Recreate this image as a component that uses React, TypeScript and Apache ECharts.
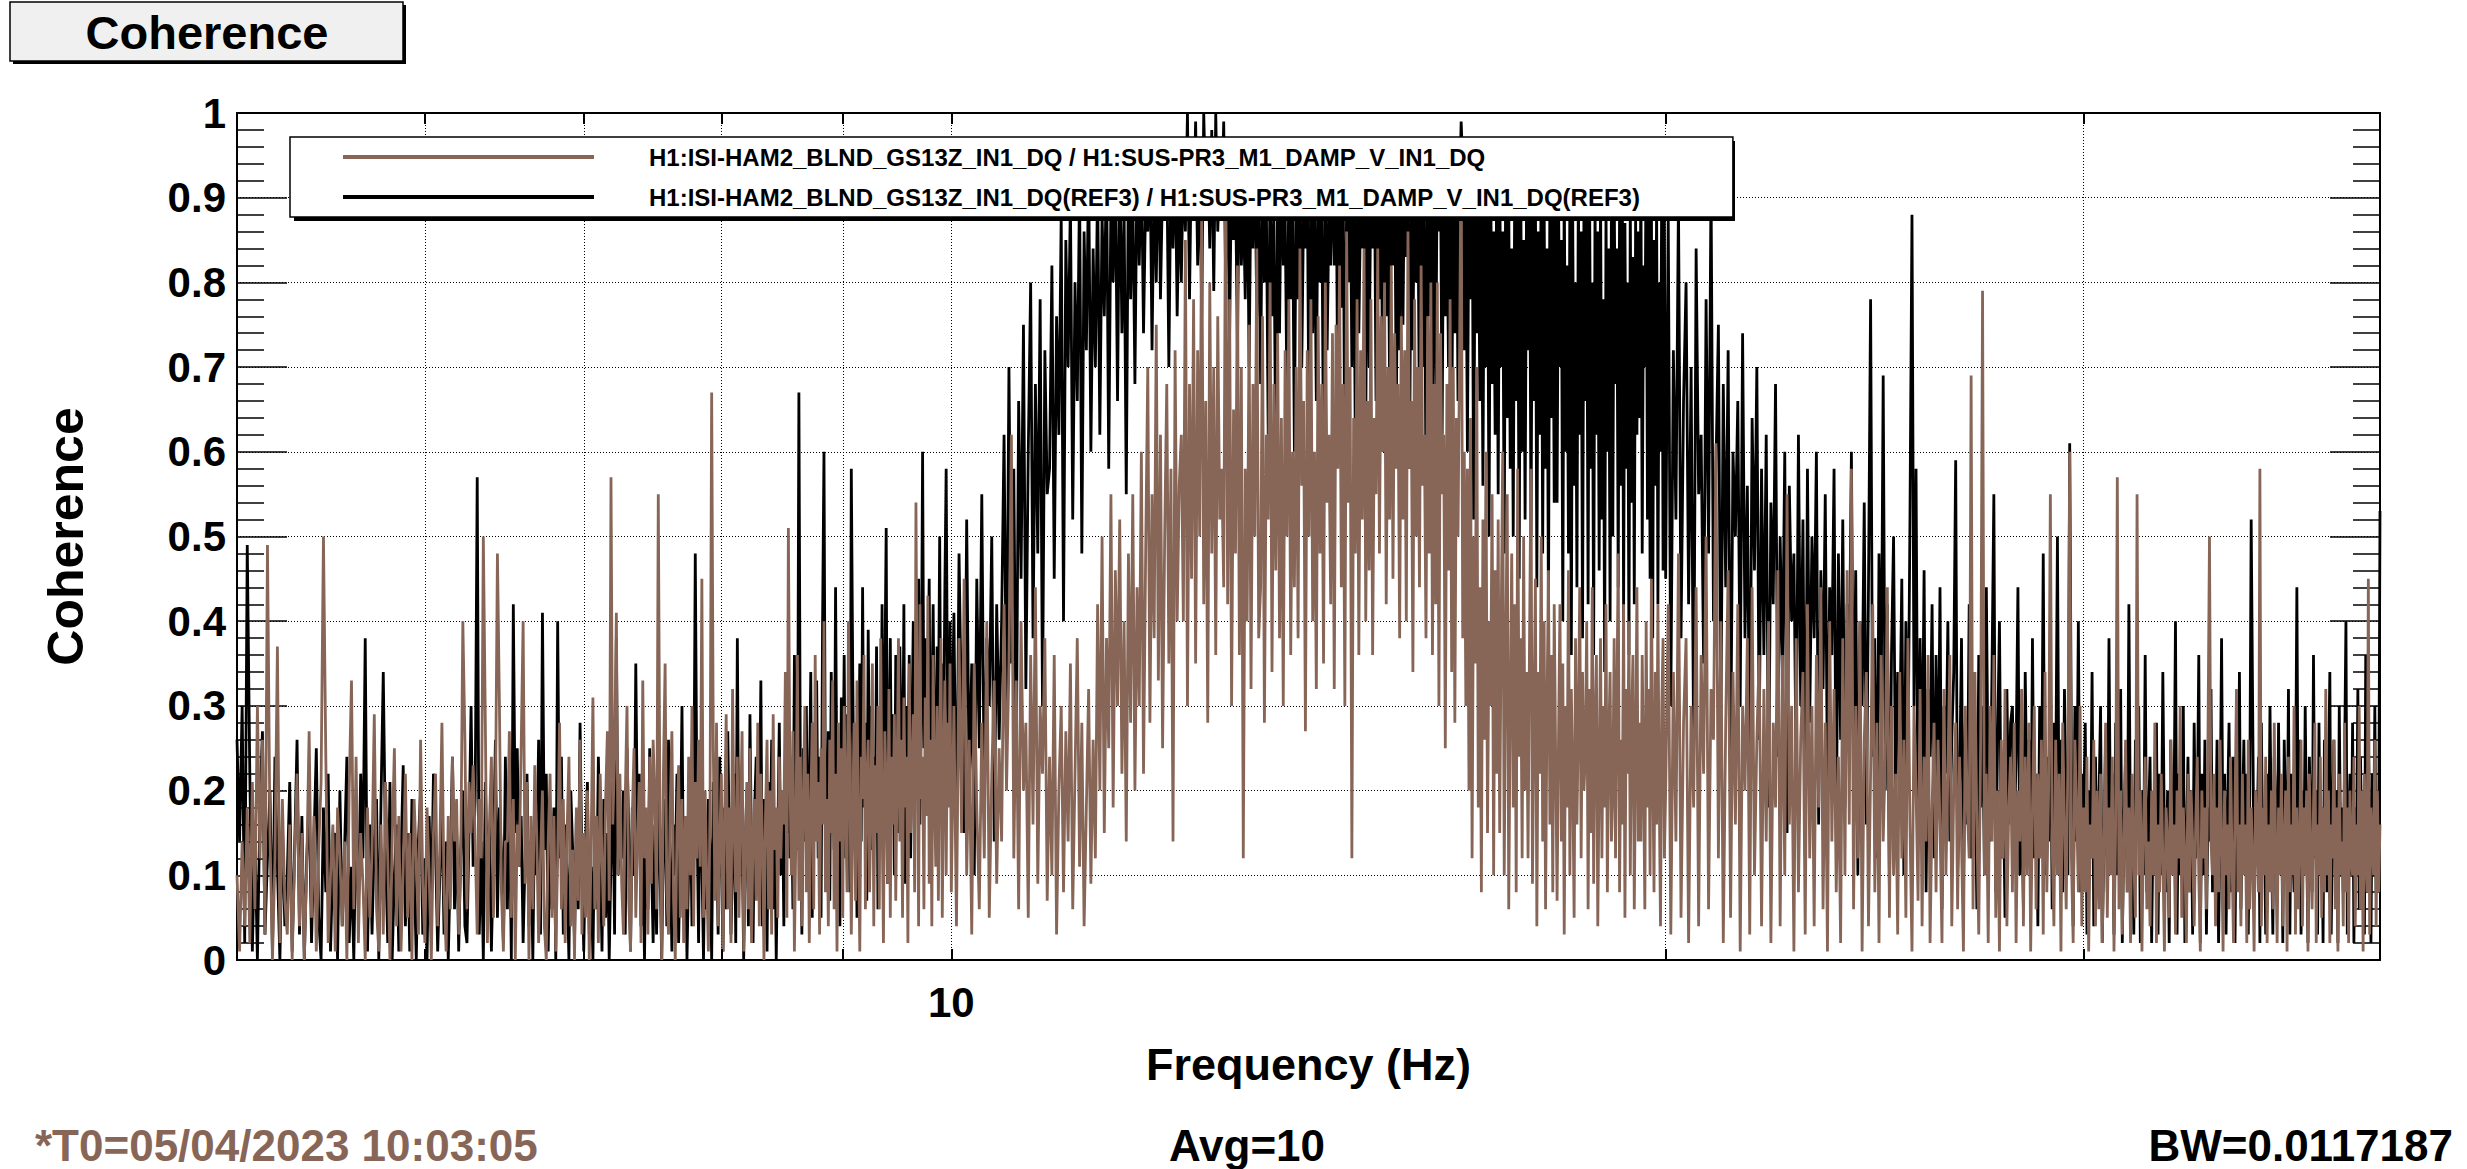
import React, { useEffect, useRef } from "react";
import * as echarts from "echarts";

// ---- frequency grids (Hz) of the three bands ----
const BAND_LOW = { start: 5, step: 0.0125 };
const BAND_MID = { start: 10, step: 0.025 };
const BAND_HIGH = { start: 20, step: 0.05 };

// ---- names ----
const LIVE_NAME = "H1:ISI-HAM2_BLND_GS13Z_IN1_DQ / H1:SUS-PR3_M1_DAMP_V_IN1_DQ";
const REF_NAME = "H1:ISI-HAM2_BLND_GS13Z_IN1_DQ(REF3) / H1:SUS-PR3_M1_DAMP_V_IN1_DQ(REF3)";

// ---- coherence in percent, REF3 trace (black) ----
const refBand5to10 = [
  26, 14, 30, 2, 49, 22, 1, 15, 0, 18, 27, 3, 12, 20, 1, 24, 11, 0, 16, 4,
  10, 21, 1, 13, 26, 3, 17, 0, 12, 19, 2, 14, 25, 5, 0, 18, 8, 22, 1, 12,
  15, 0, 20, 4, 13, 24, 2, 11, 0, 17, 6, 22, 12, 38, 1, 16, 3, 14, 19, 0,
  19, 34, 13, 2, 21, 0, 10, 16, 1, 12, 23, 4, 15, 1, 19, 11, 0, 14, 20, 3,
  12, 0, 17, 5, 22, 13, 1, 10, 18, 3, 14, 0, 11, 24, 6, 16, 1, 13, 20, 4,
  2, 15, 30, 11, 19, 57, 3, 14, 0, 21, 10, 16, 1, 12, 26, 5, 18, 13, 2, 24,
  6, 20, 0, 42, 15, 25, 11, 17, 2, 12, 22, 4, 14, 0, 19, 10, 26, 3, 41, 13,
  22, 1, 15, 6, 18, 0, 40, 12, 24, 3, 16, 10, 0, 20, 13, 2, 17, 6, 28, 11,
  1, 14, 21, 3, 11, 0, 17, 6, 24, 13, 1, 19, 5, 15, 0, 12, 21, 3, 38, 10,
  16, 12, 20, 3, 25, 15, 1, 18, 10, 35, 14, 22, 4, 13, 0, 17, 6, 25, 12, 2,
  16, 3, 21, 11, 0, 14, 19, 4, 26, 12, 1, 16, 10, 22, 2, 13, 30, 6, 17, 0,
  11, 20, 4, 14, 48, 18, 2, 23, 12, 0, 16, 6, 19, 13, 0, 21, 10, 15, 3, 24,
  12, 1, 18, 6, 27, 14, 3, 11, 22, 2, 38, 10, 17, 15, 0, 13, 20, 4, 29, 12,
  2, 18, 24, 10, 15, 33, 4, 19, 13, 1, 21, 11, 26, 6, 17, 0, 14, 28, 10, 20,
  4, 24, 15, 31, 12, 22, 6, 36, 18, 13, 67, 20, 3, 25, 14, 30, 11, 19, 34, 5,
  28, 15, 33, 12, 24, 5, 39, 60, 18, 14, 27, 7, 34, 22, 13, 44, 17, 25, 4, 31,
  18, 36, 12, 29, 20, 8, 58, 34, 16, 26, 5, 22, 35, 14, 44, 18, 28, 7, 39, 21,
  30, 13, 24, 16, 37, 6, 28, 20, 42, 14, 33, 51, 9, 25, 38, 17, 29, 10, 36, 22,
  15, 37, 26, 18, 42, 9, 30, 21, 36, 12, 27, 40, 19, 33, 23, 45, 16, 31, 60, 25,
  38, 20, 33, 45, 17, 29, 42, 24, 19, 37, 28, 50, 21, 35, 26, 44, 58, 30, 22, 40,
];
const refBand10to20 = [
  22, 41, 12, 48, 28, 15, 52, 20, 35, 10, 45, 25, 55, 18, 38, 30, 50, 14, 42, 26,
  40, 62, 28, 70, 35, 58, 22, 66, 45, 75, 32, 60, 80, 38, 68, 48, 78, 30, 72, 55,
  58, 82, 45, 76, 62, 88, 40, 85, 70, 90, 52, 80, 66, 92, 48, 86, 72, 94, 60, 84,
  70, 92, 62, 88, 76, 95, 58, 90, 80, 93, 66, 96, 74, 89, 55, 94, 78, 91, 68, 95,
  82, 95, 74, 90, 86, 96, 72, 93, 80, 97, 78, 92, 88, 95, 70, 94, 84, 96, 76, 91,
  80, 94, 86, 100, 78, 96, 88, 99, 82, 95, 76, 100, 90, 97, 84, 98, 79, 100, 86, 93,
  88, 99, 80, 96, 74, 94, 85, 92, 72, 97, 82, 90, 78, 95, 70, 93, 84, 96, 76, 91,
  68, 95, 80, 90, 62, 94, 76, 88, 58, 92, 74, 96, 82, 89, 65, 93, 78, 90, 60, 94,
  78, 96, 70, 89, 84, 93, 60, 95, 74, 90, 66, 94, 80, 91, 58, 95, 72, 88, 82, 96,
  82, 97, 64, 91, 77, 94, 56, 90, 80, 96, 70, 92, 60, 95, 74, 89, 84, 93, 62, 96,
  70, 93, 84, 96, 66, 92, 78, 95, 60, 91, 76, 94, 68, 90, 82, 96, 64, 93, 72, 95,
  75, 97, 83, 90, 58, 94, 72, 95, 80, 92, 62, 96, 70, 89, 56, 93, 76, 91, 66, 95,
  68, 95, 86, 93, 62, 94, 76, 90, 70, 96, 60, 92, 74, 95, 66, 91, 99, 94, 72, 90,
  60, 92, 78, 95, 52, 90, 74, 94, 66, 88, 56, 93, 70, 89, 50, 95, 68, 86, 62, 92,
  55, 93, 70, 86, 48, 95, 64, 90, 58, 84, 50, 92, 66, 88, 45, 94, 60, 85, 52, 91,
  72, 94, 50, 88, 66, 92, 44, 86, 62, 95, 48, 90, 58, 84, 40, 93, 64, 88, 54, 92,
  54, 90, 70, 85, 40, 93, 60, 82, 48, 91, 36, 88, 56, 80, 44, 92, 62, 86, 38, 89,
  66, 88, 42, 94, 58, 80, 36, 90, 62, 86, 46, 92, 52, 78, 34, 89, 60, 84, 40, 91,
  50, 92, 68, 84, 44, 89, 56, 95, 40, 87, 58, 80, 36, 90, 54, 83, 42, 88, 62, 86,
  64, 93, 48, 82, 70, 96, 52, 88, 45, 91, 38, 85, 56, 90, 42, 80, 60, 94, 46, 88,
];
const refBand20to40 = [
  45, 88, 30, 72, 52, 90, 38, 66, 80, 42, 70, 25, 84, 55, 62, 35, 78, 48, 92, 40,
  58, 75, 28, 68, 44, 72, 22, 60, 50, 66, 30, 74, 38, 56, 20, 64, 46, 70, 26, 58,
  36, 62, 18, 54, 42, 68, 24, 50, 34, 60, 15, 56, 40, 48, 22, 62, 30, 52, 12, 58,
  28, 50, 38, 60, 16, 46, 32, 55, 20, 44, 36, 58, 14, 48, 26, 52, 18, 42, 34, 60,
  22, 46, 10, 40, 30, 54, 16, 44, 78, 24, 38, 12, 48, 28, 69, 20, 42, 8, 36, 50,
  18, 34, 26, 45, 10, 40, 22, 52, 88, 30, 58, 14, 38, 20, 46, 8, 32, 24, 42, 12,
  36, 18, 44, 6, 30, 22, 40, 14, 26, 34, 59, 10, 20, 38, 8, 28, 16, 42, 12, 32,
  24, 6, 36, 18, 30, 10, 44, 20, 14, 34, 55, 8, 26, 40, 12, 22, 5, 32, 16, 28,
  30, 14, 24, 44, 10, 20, 6, 34, 18, 26, 8, 38, 12, 22, 4, 30, 16, 48, 10, 24,
  14, 36, 6, 28, 20, 50, 12, 26, 8, 32, 18, 10, 61, 24, 4, 30, 14, 40, 8, 22,
  16, 28, 3, 20, 12, 34, 4, 24, 10, 18, 30, 2, 14, 26, 8, 38, 12, 22, 3, 28,
  10, 20, 32, 2, 16, 24, 8, 42, 12, 18, 3, 26, 14, 30, 2, 20, 10, 36, 8, 16,
  24, 2, 18, 12, 28, 3, 22, 10, 34, 14, 8, 20, 2, 26, 12, 16, 40, 3, 22, 10,
  18, 30, 2, 14, 24, 8, 20, 3, 28, 12, 16, 36, 2, 22, 10, 26, 3, 18, 14, 32,
  8, 20, 12, 26, 2, 16, 38, 10, 22, 3, 18, 28, 8, 14, 24, 2, 20, 12, 34, 6,
  16, 26, 10, 22, 3, 18, 52, 30, 8, 20, 14, 24, 2, 28, 12, 18, 3, 22, 10, 30,
  14, 3, 24, 18, 8, 28, 12, 20, 2, 26, 16, 10, 32, 3, 22, 14, 8, 18, 44, 12,
  26, 3, 20, 10, 30, 14, 2, 24, 16, 8, 36, 12, 20, 3, 28, 10, 18, 2, 26, 14,
  8, 22, 34, 3, 16, 26, 10, 20, 2, 30, 12, 18, 8, 24, 40, 3, 14, 22, 10, 28,
  2, 18, 12, 32, 6, 24, 14, 20, 3, 36, 10, 26, 16, 2, 22, 12, 30, 8, 18, 14,
  53,
];

// ---- coherence in percent, live trace (brown) ----
const liveBand5to10 = [
  10, 1, 14, 4, 18, 2, 21, 6, 30, 12, 26, 3, 49, 15, 0, 12, 37, 2, 19, 7,
  3, 16, 0, 12, 22, 4, 15, 0, 11, 27, 5, 17, 1, 13, 21, 50, 24, 2, 10, 16,
  1, 18, 12, 4, 14, 0, 20, 33, 6, 24, 2, 15, 9, 0, 18, 5, 13, 29, 6, 1,
  16, 3, 21, 12, 0, 14, 25, 4, 17, 1, 11, 22, 5, 15, 0, 19, 12, 3, 26, 9,
  2, 18, 10, 0, 15, 22, 4, 13, 28, 8, 1, 17, 6, 24, 14, 19, 3, 12, 40, 26,
  6, 21, 15, 23, 14, 3, 19, 12, 50, 28, 2, 16, 24, 5, 18, 48, 30, 8, 1, 14,
  14, 27, 5, 19, 0, 16, 11, 25, 40, 9, 21, 0, 17, 6, 23, 15, 2, 12, 20, 4,
  0, 14, 22, 5, 17, 1, 12, 28, 6, 19, 2, 15, 24, 4, 13, 0, 18, 7, 26, 3,
  15, 5, 20, 0, 13, 31, 6, 17, 2, 22, 12, 4, 19, 27, 7, 57, 16, 24, 41, 10,
  22, 9, 3, 19, 30, 7, 1, 17, 25, 5, 14, 21, 2, 33, 12, 18, 3, 24, 9, 26,
  19, 6, 55, 16, 0, 22, 35, 8, 3, 18, 27, 7, 0, 15, 23, 5, 19, 2, 17, 6,
  24, 10, 30, 4, 21, 12, 26, 11, 45, 5, 20, 9, 1, 18, 67, 25, 7, 28, 4, 14,
  22, 1, 16, 29, 6, 18, 2, 32, 15, 8, 24, 5, 17, 27, 1, 13, 21, 6, 25, 2,
  15, 19, 7, 28, 4, 22, 14, 0, 17, 26, 6, 20, 3, 29, 13, 18, 5, 24, 12, 20,
  16, 34, 5, 51, 22, 10, 27, 1, 15, 36, 7, 24, 4, 19, 30, 8, 22, 2, 18, 28,
  6, 36, 14, 21, 3, 25, 16, 40, 8, 19, 4, 26, 15, 33, 6, 22, 1, 28, 14, 25,
  5, 30, 18, 8, 40, 21, 3, 17, 28, 7, 33, 15, 1, 24, 19, 36, 6, 21, 26, 8,
  19, 35, 4, 23, 15, 30, 6, 38, 17, 2, 27, 20, 9, 32, 5, 24, 16, 29, 7, 22,
  38, 14, 26, 5, 31, 18, 24, 2, 35, 15, 21, 29, 8, 54, 27, 4, 42, 19, 24, 6,
  31, 17, 43, 9, 26, 4, 36, 20, 11, 30, 7, 25, 38, 5, 22, 33, 10, 28, 18, 35,
];
const liveBand10to20 = [
  8, 30, 4, 38, 15, 45, 10, 26, 3, 35, 18, 6, 28, 12, 40, 5, 22, 33, 9, 25,
  14, 42, 20, 35, 62, 12, 33, 6, 40, 20, 28, 5, 36, 16, 44, 9, 30, 22, 38, 7,
  24, 10, 36, 3, 20, 30, 8, 27, 14, 35, 6, 22, 38, 11, 28, 4, 18, 32, 9, 26,
  12, 42, 20, 50, 15, 38, 25, 55, 18, 46, 30, 52, 22, 40, 14, 48, 28, 55, 20, 44,
  30, 60, 22, 48, 70, 28, 55, 38, 75, 33, 62, 25, 50, 68, 35, 58, 14, 72, 40, 56,
  62, 40, 85, 30, 68, 45, 78, 35, 72, 50, 89, 42, 66, 28, 80, 48, 70, 36, 76, 52,
  58, 44, 96, 42, 78, 30, 65, 48, 82, 36, 70, 12, 58, 40, 75, 32, 68, 50, 84, 38,
  44, 76, 28, 62, 52, 80, 34, 68, 46, 74, 38, 64, 30, 72, 50, 78, 36, 60, 44, 70,
  38, 84, 56, 66, 27, 72, 50, 78, 40, 60, 32, 76, 48, 68, 35, 80, 54, 62, 42, 74,
  32, 75, 58, 82, 44, 68, 30, 86, 54, 70, 12, 64, 48, 78, 36, 72, 52, 84, 40, 66,
  46, 78, 36, 64, 55, 84, 48, 76, 60, 80, 42, 70, 52, 82, 45, 74, 58, 68, 38, 76,
  52, 72, 40, 86, 58, 66, 34, 78, 50, 70, 44, 82, 56, 62, 38, 76, 48, 80, 36, 68,
  42, 80, 30, 74, 55, 62, 25, 68, 46, 78, 34, 70, 28, 64, 50, 72, 97, 38, 60, 30,
  58, 20, 64, 12, 50, 35, 70, 18, 44, 8, 52, 26, 60, 15, 40, 30, 55, 10, 46, 22,
  52, 15, 40, 60, 10, 36, 55, 6, 30, 48, 18, 42, 8, 58, 24, 38, 12, 50, 20, 34,
  12, 38, 58, 9, 28, 45, 4, 34, 22, 50, 14, 40, 6, 30, 46, 16, 36, 8, 42, 24,
  7, 26, 42, 14, 35, 3, 30, 18, 46, 10, 32, 22, 5, 38, 16, 28, 44, 12, 34, 20,
  24, 40, 6, 32, 15, 44, 9, 28, 36, 4, 22, 38, 12, 30, 18, 42, 8, 26, 34, 14,
  20, 38, 12, 30, 48, 8, 26, 16, 42, 5, 32, 22, 40, 10, 28, 36, 6, 24, 44, 14,
  28, 14, 36, 22, 6, 40, 18, 32, 10, 45, 24, 8, 34, 16, 42, 20, 4, 30, 38, 12,
];
const liveBand20to40 = [
  20, 42, 3, 34, 14, 48, 5, 28, 38, 2, 30, 18, 44, 4, 36, 22, 50, 6, 32, 26,
  61, 12, 40, 2, 28, 46, 5, 34, 16, 42, 1, 30, 20, 38, 3, 44, 10, 26, 36, 4,
  32, 14, 40, 2, 28, 18, 46, 4, 36, 10, 55, 16, 30, 1, 38, 8, 26, 34, 3, 42,
  12, 30, 4, 36, 18, 44, 6, 28, 1, 40, 14, 32, 8, 24, 2, 38, 10, 46, 16, 58,
  6, 30, 12, 40, 1, 26, 34, 4, 22, 42, 8, 28, 2, 36, 14, 24, 44, 5, 30, 10,
  22, 3, 34, 12, 26, 5, 38, 16, 1, 30, 20, 7, 32, 4, 24, 14, 36, 2, 18, 28,
  8, 26, 16, 2, 32, 10, 22, 36, 4, 20, 28, 6, 24, 14, 1, 30, 18, 12, 69, 6,
  34, 16, 3, 26, 79, 10, 22, 2, 30, 14, 36, 5, 20, 1, 26, 12, 32, 4, 18, 24,
  8, 28, 2, 20, 14, 32, 4, 24, 10, 28, 1, 18, 30, 6, 22, 12, 26, 3, 34, 8,
  20, 55, 14, 4, 26, 10, 22, 1, 28, 16, 6, 24, 60, 12, 2, 26, 18, 8, 30, 4,
  18, 8, 24, 1, 16, 12, 26, 4, 20, 6, 22, 2, 14, 28, 5, 18, 10, 24, 1, 16,
  57, 6, 20, 3, 14, 26, 8, 18, 2, 22, 12, 5, 55, 10, 20, 1, 16, 24, 6, 14,
  4, 20, 10, 28, 2, 16, 8, 22, 12, 1, 18, 14, 5, 26, 10, 16, 3, 20, 12, 30,
  5, 18, 12, 2, 22, 8, 20, 14, 4, 16, 24, 10, 1, 20, 12, 18, 6, 26, 50, 14,
  10, 22, 4, 18, 8, 26, 14, 1, 20, 10, 16, 6, 24, 12, 2, 18, 32, 8, 16, 4,
  22, 10, 16, 2, 26, 6, 18, 12, 1, 20, 14, 8, 58, 4, 18, 10, 24, 2, 16, 8,
  20, 6, 28, 12, 2, 18, 10, 22, 4, 14, 20, 1, 24, 8, 16, 10, 30, 3, 18, 6,
  14, 26, 4, 18, 10, 20, 1, 22, 12, 6, 18, 28, 2, 16, 10, 24, 5, 18, 8, 32,
  10, 20, 2, 16, 12, 26, 6, 18, 1, 22, 10, 14, 4, 28, 8, 18, 2, 20, 12, 10,
  24, 4, 16, 10, 30, 6, 20, 1, 22, 12, 8, 45, 3, 18, 14, 10, 26, 4, 20, 8,
  16,
];

// ---- axis helpers ----
const X_GRID_HZ = [6, 7, 8, 9, 10, 20, 30];
const X_MIN_HZ = 5;
const X_MAX_HZ = 40;
const Y_TICK_STEP = 0.1;

const BROWN = "#876657";
const FONT = '"Liberation Sans", Arial, Helvetica, sans-serif';

const toPairs = (vals: number[], band: { start: number; step: number }) =>
  vals.map((v, i) => [band.start + i * band.step, v / 100]);

export default function App() {
  const ref = useRef<HTMLDivElement>(null);

  useEffect(() => {
    if (!ref.current) return;
    const chart = echarts.init(ref.current, undefined, { renderer: "svg" });

    const refData = [
      ...toPairs(refBand5to10, BAND_LOW),
      ...toPairs(refBand10to20, BAND_MID),
      ...toPairs(refBand20to40, BAND_HIGH),
    ];
    const liveData = [
      ...toPairs(liveBand5to10, BAND_LOW),
      ...toPairs(liveBand10to20, BAND_MID),
      ...toPairs(liveBand20to40, BAND_HIGH),
    ];

    const tickLen = 11 / 847;
    const tickSegments: any[] = [];
    X_GRID_HZ.forEach((f) => {
      tickSegments.push([{ coord: [f, 0] }, { coord: [f, tickLen] }]);
      tickSegments.push([{ coord: [f, 1 - tickLen] }, { coord: [f, 1] }]);
    });

    const yAxisCommon = {
      type: "value",
      min: 0,
      max: 1,
      interval: Y_TICK_STEP,
      axisLine: { show: true, lineStyle: { color: "#000", width: 2 } },
      axisTick: { show: true, inside: true, length: 50, lineStyle: { color: "#000", width: 1.5 } },
      minorTick: { show: true, splitNumber: 5, length: 27, lineStyle: { color: "#000", width: 1.5 } },
    };

    chart.setOption({
      animation: false,
      backgroundColor: "#fff",
      textStyle: { fontFamily: FONT },
      grid: {
        left: 237,
        top: 113,
        width: 2143,
        height: 847,
        containLabel: false,
        outerBoundsMode: "none",
      },
      legend: {
        data: [LIVE_NAME, REF_NAME],
        orient: "vertical",
        left: 290,
        top: 137,
        padding: [8, 93, 8, 53],
        icon: "rect",
        itemWidth: 251,
        itemHeight: 4,
        itemGap: 16,
        backgroundColor: "#fff",
        borderColor: "#000",
        borderWidth: 1.5,
        selectedMode: false,
        z: 4,
        textStyle: {
          fontFamily: FONT,
          fontWeight: "bold",
          fontSize: 24,
          color: "#000",
          padding: [0, 0, 0, 50],
        },
      },
      xAxis: [
        {
          type: "log",
          logBase: 10,
          min: X_MIN_HZ,
          max: X_MAX_HZ,
          position: "bottom",
          name: "Frequency (Hz)",
          nameLocation: "middle",
          nameGap: 82,
          nameTextStyle: { fontFamily: FONT, fontWeight: "bold", fontSize: 45, color: "#000" },
          axisLine: { show: true, onZero: false, lineStyle: { color: "#000", width: 2 } },
          axisTick: { show: false },
          splitLine: { show: false },
          axisLabel: {
            margin: 21,
            fontFamily: FONT,
            fontWeight: "bold",
            fontSize: 42,
            color: "#000",
            formatter: (v: number) => (Math.abs(v - 10) < 1e-6 ? "10" : ""),
          },
        },
        {
          type: "log",
          logBase: 10,
          min: X_MIN_HZ,
          max: X_MAX_HZ,
          position: "top",
          axisLine: { show: true, onZero: false, lineStyle: { color: "#000", width: 2 } },
          axisTick: { show: false },
          axisLabel: { show: false },
          splitLine: { show: false },
        },
      ],
      yAxis: [
        {
          ...yAxisCommon,
          position: "left",
          name: "Coherence",
          nameLocation: "middle",
          nameGap: 146,
          nameTextStyle: { fontFamily: FONT, fontWeight: "bold", fontSize: 50, color: "#000" },
          axisLabel: {
            margin: 11,
            fontFamily: FONT,
            fontWeight: "bold",
            fontSize: 42,
            color: "#000",
          },
          splitLine: { show: true, lineStyle: { color: "#000", width: 1, type: [1, 2] } },
        },
        {
          ...yAxisCommon,
          position: "right",
          axisLabel: { show: false },
          splitLine: { show: false },
        },
      ],
      series: [
        {
          name: REF_NAME,
          type: "line",
          data: refData,
          symbol: "none",
          showSymbol: false,
          z: 2,
          lineStyle: { color: "#000", width: 2.8 },
          itemStyle: { color: "#000" },
          emphasis: { disabled: true },
          markLine: {
            silent: true,
            z: 1,
            symbol: ["none", "none"],
            label: { show: false },
            lineStyle: { color: "#000", width: 1, type: [1, 2] },
            data: X_GRID_HZ.map((f) => ({ xAxis: f })),
          },
        },
        {
          name: LIVE_NAME,
          type: "line",
          data: liveData,
          symbol: "none",
          showSymbol: false,
          z: 2,
          lineStyle: { color: BROWN, width: 2.8 },
          itemStyle: { color: BROWN },
          emphasis: { disabled: true },
          markLine: {
            silent: true,
            z: 6,
            symbol: ["none", "none"],
            label: { show: false },
            lineStyle: { color: "#000", width: 2, type: "solid" },
            data: tickSegments,
          },
        },
      ],
      graphic: [
        { type: "rect", z: 10, shape: { x: 13, y: 5, width: 393, height: 59 }, style: { fill: "#000" } },
        {
          type: "rect",
          z: 11,
          shape: { x: 10, y: 2, width: 393, height: 59 },
          style: { fill: "#f0f0f0", stroke: "#000", lineWidth: 1.5 },
        },
        {
          type: "text",
          z: 12,
          x: 207,
          y: 32,
          style: {
            text: "Coherence",
            font: `bold 47px ${FONT}`,
            fill: "#000",
            align: "center",
            verticalAlign: "middle",
          },
        },
        { type: "rect", z: 3, shape: { x: 294, y: 141, width: 1441, height: 80 }, style: { fill: "#000" } },
        {
          type: "text",
          z: 12,
          x: 35,
          y: 1145,
          style: {
            text: "*T0=05/04/2023 10:03:05",
            font: `bold 44px ${FONT}`,
            fill: BROWN,
            align: "left",
            verticalAlign: "middle",
          },
        },
        {
          type: "text",
          z: 12,
          x: 1247,
          y: 1145,
          style: {
            text: "Avg=10",
            font: `bold 44px ${FONT}`,
            fill: "#000",
            align: "center",
            verticalAlign: "middle",
          },
        },
        {
          type: "text",
          z: 12,
          x: 2453,
          y: 1145,
          style: {
            text: "BW=0.0117187",
            font: `bold 44px ${FONT}`,
            fill: "#000",
            align: "right",
            verticalAlign: "middle",
          },
        },
      ],
    });

    return () => chart.dispose();
  }, []);

  return (
    <div
      ref={ref}
      style={{ position: "fixed", left: 0, top: 0, width: 2467, height: 1169, background: "#fff" }}
    />
  );
}
